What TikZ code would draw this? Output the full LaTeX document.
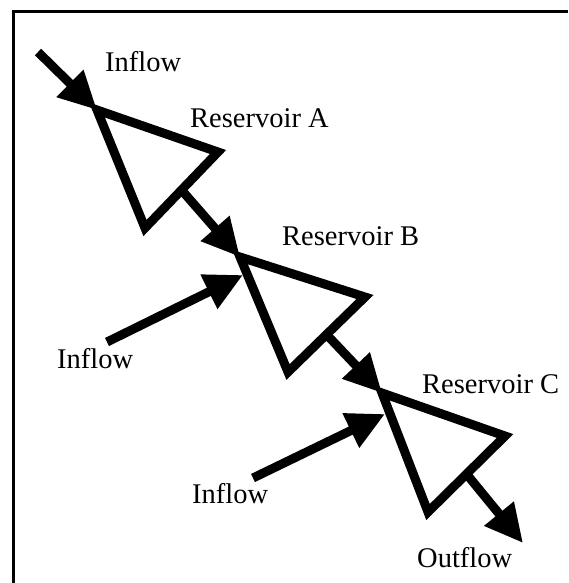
\documentclass[tikz,border=0pt]{standalone}
\usepackage{fontspec}
\setmainfont{Liberation Serif}
\usetikzlibrary{arrows.meta,calc}
\begin{document}
\begin{tikzpicture}[x=1pt,y=-1pt,
  tank/.style={line width=9pt, line join=miter},
  flow/.style={line width=9pt, -{Triangle[length=38pt 0 0,width=36pt 0 0]}},
  lbl/.style={anchor=base west, inner sep=0pt, font=\fontsize{28.5}{30}\selectfont},
  frame/.style={line width=3pt}]
\useasboundingbox (0,0) rectangle (568,583);
% frame (only top and left edges visible)
\coordinate (f1) at (13,583);
\coordinate (f2) at (13,12);
\coordinate (f3) at (568,12);
\draw[frame] (f1) -- (f2) -- (f3);
% reservoirs
\coordinate (A1) at (97,110);  \coordinate (A2) at (218,152); \coordinate (A3) at (145,228);
\coordinate (B1) at (240,257); \coordinate (B2) at (365,297); \coordinate (B3) at (288,372);
\coordinate (C1) at (382,393); \coordinate (C2) at (505,436); \coordinate (C3) at (428,512);
\draw[tank] (A1) -- (A2) -- (A3) -- cycle;
\draw[tank] (B1) -- (B2) -- (B3) -- cycle;
\draw[tank] (C1) -- (C2) -- (C3) -- cycle;
\coordinate (Aout) at ($(A2)!0.5!(A3)$);
\coordinate (Bout) at ($(B2)!0.5!(B3)$);
\coordinate (Cout) at ($(C2)!0.5!(C3)$);
% flow end points
\coordinate (inA) at (38,52);
\coordinate (inB) at (107,342);
\coordinate (tipB) at (243,275);
\coordinate (inC) at (253,478);
\coordinate (tipC) at (385,414);
\coordinate (out) at (523,543);
% connectors
\draw[flow] (inA) -- (A1);
\draw[flow] (Aout) -- (B1);
\draw[flow] (inB) -- (tipB);
\draw[flow] (Bout) -- (C1);
\draw[flow] (inC) -- (tipC);
\draw[flow] (Cout) -- (out);
% labels
\node[lbl] (tInA) at (105,72) {Inflow};
\node[lbl] (tA) at (190,128) {Reservoir A};
\node[lbl] (tB) at (282,245) {Reservoir B};
\node[lbl] (tInB) at (57,368) {Inflow};
\node[lbl] (tC) at (422,393) {Reservoir C};
\node[lbl] (tInC) at (192,503) {Inflow};
\node[lbl] (tOut) at (417,567) {Outflow};
\end{tikzpicture}
\end{document}
